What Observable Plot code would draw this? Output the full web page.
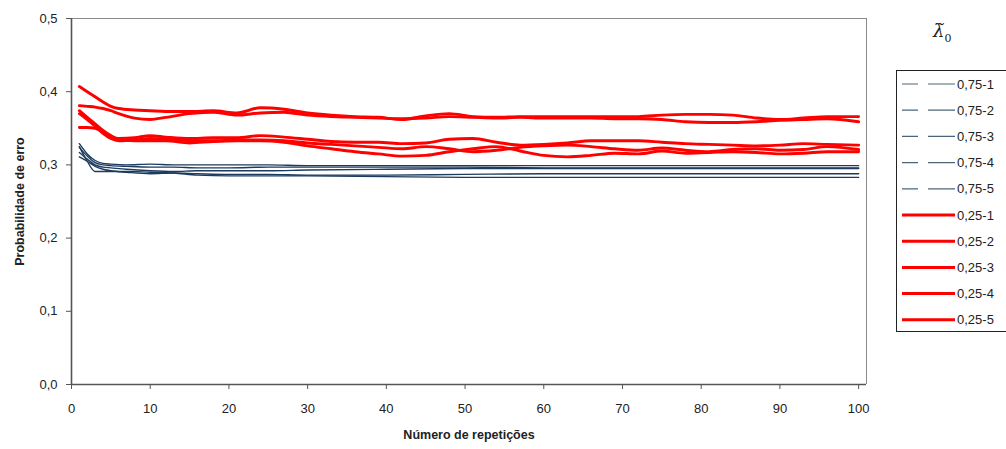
<!DOCTYPE html>
<html>
<head>
<meta charset="utf-8">
<script src="https://cdn.jsdelivr.net/npm/d3@7"></script>
<script src="https://cdn.jsdelivr.net/npm/@observablehq/plot@0.6"></script>
<style>
  html, body { margin: 0; padding: 0; background: #fff; }
  #wrap { position: relative; width: 1006px; height: 449px; overflow: hidden; font-family: "Liberation Sans", Arial, sans-serif; }
  #legtitle { position: absolute; left: 933px; top: 20px; font-family: "DejaVu Serif", "Liberation Serif", serif; font-size: 18px; color: #222; }
  #legtitle sub { font-size: 11px; font-style: normal; }
  #legend { position: absolute; left: 896px; top: 70px; }
</style>
</head>
<body>
<div id="wrap"><div id="legtitle"><i>λ̃</i><sub>0</sub></div></div>
<script>
// ---- data ----
const blueX = [1,2,3,4,5,7,10,13,16,20,25,30,40,50,60,70,80,90,100];
const blue1 = [0.329,0.315,0.306,0.302,0.301,0.300,0.301,0.300,0.300,0.300,0.300,0.299,0.299,0.299,0.299,0.299,0.299,0.299,0.299];
const blue2 = [0.324,0.312,0.303,0.300,0.299,0.298,0.297,0.297,0.296,0.296,0.297,0.297,0.297,0.297,0.296,0.296,0.296,0.296,0.296];
const blue3 = [0.317,0.308,0.300,0.297,0.296,0.294,0.292,0.291,0.292,0.292,0.292,0.293,0.294,0.295,0.295,0.295,0.295,0.295,0.295];
const blue4 = [0.311,0.305,0.298,0.294,0.292,0.290,0.288,0.289,0.288,0.287,0.287,0.286,0.286,0.287,0.288,0.288,0.288,0.288,0.288];
const blue5 = [0.325,0.305,0.291,0.291,0.291,0.291,0.290,0.289,0.286,0.285,0.285,0.285,0.284,0.283,0.283,0.283,0.283,0.283,0.283];

const redX = [1,2,3,4,5,6,8,10,12,15,18,21,24,27,30,33,36,39,42,45,48,51,54,57,60,63,66,69,72,75,78,81,84,87,90,93,96,100];
const red1 = [0.407,0.400,0.393,0.386,0.380,0.377,0.375,0.374,0.373,0.373,0.374,0.371,0.378,0.376,0.371,0.368,0.366,0.365,0.362,0.367,0.370,0.366,0.365,0.366,0.366,0.366,0.366,0.366,0.366,0.368,0.369,0.369,0.368,0.364,0.362,0.364,0.366,0.366];
const red2 = [0.381,0.380,0.379,0.377,0.374,0.370,0.364,0.362,0.365,0.370,0.372,0.368,0.371,0.372,0.368,0.366,0.365,0.364,0.363,0.364,0.366,0.365,0.364,0.365,0.364,0.364,0.364,0.363,0.363,0.362,0.359,0.358,0.358,0.359,0.361,0.362,0.363,0.359];
const red3 = [0.374,0.365,0.356,0.347,0.340,0.336,0.337,0.340,0.338,0.336,0.337,0.337,0.340,0.338,0.335,0.332,0.331,0.331,0.329,0.330,0.335,0.336,0.331,0.327,0.328,0.330,0.333,0.333,0.333,0.331,0.329,0.328,0.327,0.326,0.327,0.329,0.328,0.327];
const red4 = [0.370,0.362,0.353,0.343,0.336,0.333,0.334,0.336,0.335,0.333,0.333,0.334,0.334,0.333,0.330,0.328,0.326,0.324,0.322,0.325,0.322,0.318,0.320,0.324,0.326,0.327,0.325,0.322,0.320,0.323,0.320,0.318,0.321,0.322,0.320,0.321,0.325,0.321];
const red5 = [0.351,0.351,0.350,0.345,0.339,0.335,0.333,0.333,0.333,0.330,0.332,0.333,0.333,0.331,0.326,0.322,0.318,0.315,0.312,0.313,0.318,0.322,0.325,0.319,0.313,0.311,0.313,0.316,0.315,0.319,0.316,0.317,0.318,0.317,0.315,0.316,0.318,0.318];

const seriesNames = ["0,75-1","0,75-2","0,75-3","0,75-4","0,75-5","0,25-1","0,25-2","0,25-3","0,25-4","0,25-5"];
const xTicks = [0,10,20,30,40,50,60,70,80,90,100];
const yTicks = [0,0.1,0.2,0.3,0.4,0.5];

// ---- build rows ----
const blueSeries = [blue1, blue2, blue3, blue4, blue5];
const redSeries = [red1, red2, red3, red4, red5];
const rows = [];
blueSeries.forEach((arr, i) => arr.forEach((v, j) => rows.push({x: blueX[j], y: v, s: seriesNames[i], g: "b"})));
redSeries.forEach((arr, i) => arr.forEach((v, j) => rows.push({x: redX[j], y: v, s: seriesNames[5 + i], g: "r"})));

const fmt = d => d.toFixed(1).replace(".", ",");
const FONT = "'Liberation Sans', Arial, sans-serif";

const chart = Plot.plot({
  width: 1006,
  height: 449,
  marginLeft: 71,
  marginRight: 140,
  marginTop: 18,
  marginBottom: 65,
  style: {fontFamily: FONT, fontSize: "12px", color: "#222", background: "white"},
  x: {domain: [0, 101]},
  y: {domain: [0, 0.5]},
  marks: [
    Plot.ruleY([0.5], {stroke: "#8a8a8a", strokeWidth: 1}),
    Plot.ruleX([101], {stroke: "#8a8a8a", strokeWidth: 1}),
    Plot.line(rows.filter(d => d.g === "b"), {x: "x", y: "y", z: "s", stroke: "#1c3b5e", strokeWidth: 1.4, curve: "monotone-x"}),
    Plot.line(rows.filter(d => d.g === "r"), {x: "x", y: "y", z: "s", stroke: "#ff0000", strokeWidth: 2.9, curve: "monotone-x"}),
    Plot.ruleX([0], {stroke: "#555", strokeWidth: 1.6}),
    Plot.ruleY([0], {stroke: "#555", strokeWidth: 1.6}),
    Plot.axisX({ticks: xTicks, tickSize: 5, tickPadding: 14, tickFormat: d => String(d), stroke: "#555",
      fontSize: 13, label: "Número de repetições", labelAnchor: "center", labelArrow: "none", labelOffset: 54}),
    Plot.axisY({ticks: yTicks, tickSize: 5, tickPadding: 9, tickFormat: fmt, stroke: "#555",
      fontSize: 13, label: "Probabilidade de erro", labelAnchor: "center", labelArrow: "none", labelOffset: 56})
  ]
});
chart.style.position = "absolute";
chart.style.left = "0px";
chart.style.top = "0px";
const wrap = document.getElementById("wrap");
wrap.insertBefore(chart, wrap.firstChild);
d3.select(chart).selectAll("g[aria-label$='axis label']")
  .style("font-weight", "bold").style("font-size", "12.5px");

// ---- legend ----
const legW = 120, legH = 262, rowH = 26.2;
const leg = d3.select("#wrap").append("svg")
  .attr("id", "legend").attr("width", legW).attr("height", legH)
  .style("font-family", FONT);
leg.append("rect").attr("x", 0.5).attr("y", 0.5).attr("width", legW).attr("height", legH - 1)
  .attr("fill", "white").attr("stroke", "#222").attr("stroke-width", 1);
seriesNames.forEach((name, i) => {
  const y = 14 + i * rowH;
  const isBlue = i < 5;
  leg.append("line").attr("x1", 6).attr("x2", 59).attr("y1", y).attr("y2", y)
    .attr("stroke", isBlue ? "#4d6478" : "#ff0000")
    .attr("stroke-width", isBlue ? 1.2 : 3)
    .attr("stroke-dasharray", isBlue ? "16,10,27" : null);
  leg.append("text").attr("x", 61).attr("y", y).attr("dy", "0.35em")
    .attr("font-size", 13).attr("fill", "#222").text(name);
});
</script>
</body>
</html>
